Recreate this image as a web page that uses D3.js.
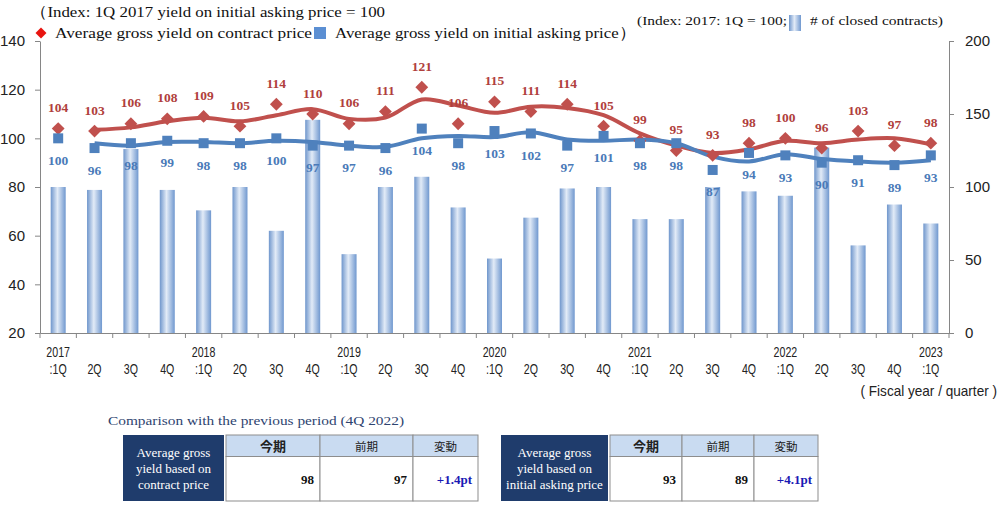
<!DOCTYPE html>
<html><head><meta charset="utf-8">
<script src="https://cdn.jsdelivr.net/npm/d3@7"></script>
<style>body{margin:0;background:#fff}svg{display:block}</style>
</head><body>
<svg id="c" width="1004" height="506"></svg>
<script>
const categories = ["2017:1Q","2017:2Q","2017:3Q","2017:4Q","2018:1Q","2018:2Q","2018:3Q","2018:4Q","2019:1Q","2019:2Q","2019:3Q","2019:4Q","2020:1Q","2020:2Q","2020:3Q","2020:4Q","2021:1Q","2021:2Q","2021:3Q","2021:4Q","2022:1Q","2022:2Q","2022:3Q","2022:4Q","2023:1Q"];
const yearLabels = ["2017","","","","2018","","","","2019","","","","2020","","","","2021","","","","2022","","","","2023"];
const quarterLabels = [":1Q","2Q","3Q","4Q",":1Q","2Q","3Q","4Q",":1Q","2Q","3Q","4Q",":1Q","2Q","3Q","4Q",":1Q","2Q","3Q","4Q",":1Q","2Q","3Q","4Q",":1Q"];
const contractYield = [104,103,106,108,109,105,114,110,106,111,121,106,115,111,114,105,99,95,93,98,100,96,103,97,98];
const askingYield = [100,96,98,99,98,98,100,97,97,96,104,98,103,102,97,101,98,98,87,94,93,90,91,89,93];
const contractTrend = [null,103.5,104.5,107,108.5,107,109.5,112,108,108.5,116,113.5,110.5,113,112.5,109.5,102,97,94,95.5,99,98,99.5,100,97.5];
const askingTrend = [null,98,97,98.5,98.5,98,99,98.5,97,96.5,100,101,100.5,102.5,99.5,99,99.5,98,92.5,90.5,93.5,91.5,90.5,90,91];
const closedContracts = [100,98,126,98,84,100,70,146,54,100,107,86,51,79,99,100,78,78,100,97,94,127,60,88,75];
const leftTicks = [20,40,60,80,100,120,140];
const rightTicks = [0,50,100,150,200];
const tableHeaders = ["今期","前期","変動"];
const contractRow = ["98","97","+1.4pt"];
const askingRow = ["93","89","+4.1pt"];

const svg = d3.select("#c");
const serif = "'Liberation Serif','Times New Roman',serif";
const sans = "'Liberation Sans',Arial,sans-serif";
const red = "#c0504d", blue = "#4f81bd", redTxt = "#b0403c", blueTxt = "#4a7ab8";

const x = d3.scaleBand().domain(categories).range([40, 949]).padding(0);
const yL = d3.scaleLinear().domain([20, 140]).range([333, 41]);
const yR = d3.scaleLinear().domain([0, 200]).range([333, 41]);
const cx = d => x(d) + x.bandwidth() / 2;

const defs = svg.append("defs");
const g = defs.append("linearGradient").attr("id", "barG").attr("x1", "0").attr("x2", "1").attr("y1", "0").attr("y2", "0");
g.append("stop").attr("offset", "0%").attr("stop-color", "#6f96cc");
g.append("stop").attr("offset", "45%").attr("stop-color", "#e2ebf7");
g.append("stop").attr("offset", "100%").attr("stop-color", "#7098cf");

// bars
const bw = 15;
svg.append("g").selectAll("rect").data(closedContracts).join("rect")
  .attr("x", (d, i) => cx(categories[i]) - bw / 2)
  .attr("y", d => yR(d)).attr("width", bw).attr("height", d => yR(0) - yR(d))
  .attr("fill", "url(#barG)");

// axes
const axisColor = "#868686";
const ax = svg.append("g").attr("transform", "translate(40,0)")
  .call(d3.axisLeft(yL).tickValues(leftTicks).tickSize(5).tickPadding(10).tickSizeOuter(0));
const ar = svg.append("g").attr("transform", "translate(949,0)")
  .call(d3.axisRight(yR).tickValues(rightTicks).tickSize(5).tickPadding(11).tickSizeOuter(0));
[ax, ar].forEach(a => {
  a.select(".domain").attr("stroke", axisColor);
  a.selectAll(".tick line").attr("stroke", axisColor);
  a.selectAll(".tick text").attr("font-family", sans).attr("font-size", 15).attr("fill", "#222");
});
const bx = svg.append("g").attr("transform", "translate(0,333)")
  .call(d3.axisBottom(x).tickSize(0).tickFormat(""));
bx.select(".domain").attr("stroke", axisColor);
bx.selectAll(".tick").remove();
const boundaries = categories.map(c => x(c)).concat([949]);
svg.append("g").selectAll("line").data(boundaries).join("line")
  .attr("x1", d => d).attr("x2", d => d).attr("y1", 333).attr("y2", 338)
  .attr("stroke", axisColor);

// x labels (condensed)
const xl = svg.append("g").attr("font-family", sans).attr("font-size", 14).attr("fill", "#222").attr("text-anchor", "middle");
xl.selectAll("text.yr").data(yearLabels).join("text").attr("class", "yr")
  .attr("transform", (d, i) => `translate(${cx(categories[i])},357) scale(0.76,1)`).text(d => d);
xl.selectAll("text.q").data(quarterLabels).join("text").attr("class", "q")
  .attr("transform", (d, i) => `translate(${cx(categories[i])},374) scale(0.76,1)`).text(d => d);
svg.append("text").attr("transform", "translate(997,396) scale(0.97,1)").attr("text-anchor", "end")
  .attr("font-family", sans).attr("font-size", 14).attr("fill", "#222").text("( Fiscal year / quarter )");

// trend lines
const line = (yS) => d3.line().defined(d => d != null).x((d, i) => cx(categories[i])).y(d => yS(d)).curve(d3.curveCatmullRom.alpha(0.5));
svg.append("path").datum(contractTrend).attr("d", line(yL)).attr("fill", "none").attr("stroke", red).attr("stroke-width", 4);
svg.append("path").datum(askingTrend).attr("d", line(yL)).attr("fill", "none").attr("stroke", blue).attr("stroke-width", 4);

// markers
svg.append("g").selectAll("path").data(contractYield).join("path")
  .attr("d", d3.symbol(d3.symbolSquare, 82)())
  .attr("transform", (d, i) => `translate(${cx(categories[i])},${yL(d)}) rotate(45)`)
  .attr("fill", red);
svg.append("g").selectAll("rect").data(askingYield).join("rect")
  .attr("x", (d, i) => cx(categories[i]) - 5).attr("y", d => yL(d) - 5)
  .attr("width", 10).attr("height", 10).attr("fill", blue);

// value labels
const lab = svg.append("g").attr("font-family", serif).attr("font-weight", "bold").attr("font-size", 13.5).attr("text-anchor", "middle");
lab.selectAll("text.r").data(contractYield).join("text").attr("class", "r")
  .attr("x", (d, i) => cx(categories[i])).attr("y", d => yL(d) - 16.5).attr("fill", redTxt).text(d => d);
lab.selectAll("text.b").data(askingYield).join("text").attr("class", "b")
  .attr("x", (d, i) => cx(categories[i])).attr("y", d => yL(d) + 26.5).attr("fill", blueTxt).text(d => d);

// legend / titles
function txt(xp, yp, size, len, s) {
  return svg.append("text").attr("x", xp).attr("y", yp).attr("font-family", serif).attr("font-size", size)
    .attr("fill", "#111").attr("textLength", len).attr("lengthAdjust", "spacingAndGlyphs").text(s);
}
txt(30, 17, 15.5, 355, "（Index: 1Q 2017 yield on initial asking price = 100");
svg.append("path").attr("d", d3.symbol(d3.symbolSquare, 60)()).attr("transform", "translate(41,33) rotate(45)").attr("fill", "#e8140f");
txt(55, 38, 15.5, 257, "Average gross yield on contract price");
svg.append("rect").attr("x", 314).attr("y", 27).attr("width", 12).attr("height", 12).attr("fill", "#5b8fd3");
txt(335, 38, 15.5, 301, "Average gross yield on initial asking price）");
txt(637, 25, 13.5, 150, "(Index: 2017: 1Q = 100;");
svg.append("rect").attr("x", 789).attr("y", 15).attr("width", 12).attr("height", 16).attr("fill", "url(#barG)");
txt(810, 25, 13.5, 133, "# of closed contracts)");

// comparison tables
svg.append("text").attr("x", 108).attr("y", 425).attr("font-family", serif).attr("font-size", 13)
  .attr("fill", "#2e4470").attr("textLength", 296).attr("lengthAdjust", "spacingAndGlyphs")
  .text("Comparison with the previous period (4Q 2022)");

function table(x0, boxW, cols, title, row) {
  const t = svg.append("g");
  t.append("rect").attr("x", x0).attr("y", 435).attr("width", boxW).attr("height", 66).attr("fill", "#1f3c6c");
  title.forEach((s, i) => t.append("text").attr("x", x0 + boxW / 2).attr("y", 457 + i * 16)
    .attr("text-anchor", "middle").attr("font-family", serif).attr("font-size", 13).attr("fill", "#fff").text(s));
  for (let i = 0; i < 3; i++) {
    const a = cols[i], b = cols[i + 1];
    t.append("rect").attr("x", a).attr("y", 435).attr("width", b - a).attr("height", 21.5).attr("fill", "#c9dbf1").attr("stroke", "#8d8d8d");
    t.append("rect").attr("x", a).attr("y", 456.5).attr("width", b - a).attr("height", 44.5).attr("fill", "#fff").attr("stroke", "#8d8d8d");
    t.append("text").attr("x", (a + b) / 2).attr("y", 451).attr("text-anchor", "middle")
      .attr("font-family", "'Noto Sans CJK JP',sans-serif").attr("font-size", i === 0 ? 13 : 11.5)
      .attr("font-weight", i === 0 ? "bold" : "normal").attr("fill", "#222").text(tableHeaders[i]);
    t.append("text").attr("x", b - 6).attr("y", 484).attr("text-anchor", "end")
      .attr("font-family", serif).attr("font-weight", "bold").attr("font-size", 13)
      .attr("fill", i === 2 ? "#1a1ab4" : "#111").text(row[i]);
  }
}
table(123, 101, [226, 320, 413, 478], ["Average gross", "yield based on", "contract price"], contractRow);
table(501, 107, [610, 682, 754, 818], ["Average gross", "yield based on", "initial asking price"], askingRow);
</script>
</body></html>
